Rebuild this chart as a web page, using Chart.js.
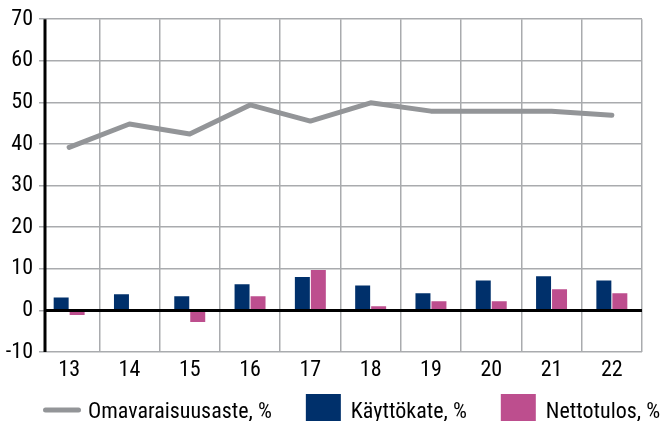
<!DOCTYPE html>
<html>
<head>
<meta charset="utf-8">
<script src="https://cdn.jsdelivr.net/npm/chart.js@4"></script>
<style>
html,body{margin:0;padding:0;background:#fff;}
</style>
</head>
<body>
<canvas id="c" width="667" height="421"></canvas>
<script>
const categories = ['13','14','15','16','17','18','19','20','21','22'];
const omavaraisuusaste = [39.2, 44.8, 42.4, 49.4, 45.5, 49.9, 47.9, 47.9, 47.9, 46.9];
const kayttokate = [3.1, 3.9, 3.4, 6.3, 8.0, 6.0, 4.1, 7.2, 8.2, 7.2];
const nettotulos = [-1.1, 0, -2.8, 3.4, 9.7, 1.0, 2.2, 2.2, 5.1, 4.1];
const yTicks = [-10, 0, 10, 20, 30, 40, 50, 60, 70];
const seriesNames = ['Omavaraisuusaste, %', 'Käyttökate, %', 'Nettotulos, %'];

const GRAY_LINE = '#939598';
const NAVY = '#00306b';
const PINK = '#bd4e8e';
const GRID = '#a9abae';
const FONT = "'Roboto Condensed', 'Liberation Sans', sans-serif";
const FONT_SIZE = 22;

const axisPlugin = {
  id: 'axisLines',
  afterDatasetsDraw(chart){
    const {ctx, chartArea, scales} = chart;
    const y0 = scales.y.getPixelForValue(0);
    ctx.save();
    ctx.strokeStyle = '#000';
    ctx.lineWidth = 3;
    ctx.beginPath();
    ctx.moveTo(chartArea.left + 6, y0);
    ctx.lineTo(chartArea.right, y0);
    ctx.stroke();
    ctx.beginPath();
    ctx.moveTo(chartArea.left + 6, chartArea.top);
    ctx.lineTo(chartArea.left + 6, chartArea.bottom);
    ctx.stroke();
    ctx.restore();
  }
};

// legend drawn from the chart's own datasets
const legendPlugin = {
  id: 'customLegend',
  afterDraw(chart){
    const {ctx} = chart;
    const ds = chart.data.datasets;
    const baseY = 418;
    const midY = 410;
    let x = 43;
    ctx.save();
    ctx.font = FONT_SIZE + 'px ' + FONT;
    ctx.textBaseline = 'alphabetic';
    ctx.textAlign = 'left';
    ds.forEach((d, i) => {
      if (d.type === 'line') {
        ctx.strokeStyle = d.borderColor;
        ctx.lineWidth = 5;
        ctx.lineCap = 'round';
        ctx.beginPath();
        ctx.moveTo(x + 2.5, midY);
        ctx.lineTo(x + 35.5, midY);
        ctx.stroke();
        x += 38 + 7;
      } else {
        ctx.fillStyle = d.backgroundColor;
        ctx.fillRect(x, 394, 35, 35);
        x += 35 + 10;
      }
      ctx.fillStyle = '#000';
      ctx.fillText(d.label, x, baseY);
      x += ctx.measureText(d.label).width + 34;
    });
    ctx.restore();
  }
};

new Chart(document.getElementById('c'), {
  data: {
    labels: categories,
    datasets: [
      {type:'line', label: seriesNames[0], data: omavaraisuusaste, borderColor: GRAY_LINE, backgroundColor: GRAY_LINE,
       borderWidth: 5, pointRadius: 0, tension: 0, borderCapStyle: 'round', borderJoinStyle: 'round', order: 0},
      {type:'bar', label: seriesNames[1], data: kayttokate, backgroundColor: NAVY, borderWidth: 0,
       categoryPercentage: 0.53, barPercentage: 0.9375, order: 1},
      {type:'bar', label: seriesNames[2], data: nettotulos, backgroundColor: PINK, borderWidth: 0,
       categoryPercentage: 0.53, barPercentage: 0.9375, order: 1}
    ]
  },
  options: {
    responsive: false,
    animation: false,
    layout: {padding: {top: 12, right: 25, left: 0, bottom: 38}},
    plugins: {
      tooltip: {enabled: false},
      legend: {display: false}
    },
    scales: {
      x: {
        type: 'category',
        offset: true,
        afterFit: (s) => { s.height = 31; },
        grid: {offset: true, drawTicks: false, lineWidth: 1.5,
               color: (c) => c.index === 0 ? 'rgba(0,0,0,0)' : GRID},
        border: {display: false},
        ticks: {color: '#000', font: {family: FONT, size: FONT_SIZE}, padding: 5, maxRotation: 0}
      },
      y: {
        min: -10, max: 70,
        afterBuildTicks: (s) => { s.ticks = yTicks.map(v => ({value: v})); },
        afterFit: (s) => { s.width = 39; },
        grid: {drawTicks: false, lineWidth: 1.5, color: GRID},
        border: {display: false},
        ticks: {color: '#000', font: {family: FONT, size: FONT_SIZE}, padding: 6}
      }
    }
  },
  plugins: [axisPlugin, legendPlugin]
});
</script>
</body>
</html>
